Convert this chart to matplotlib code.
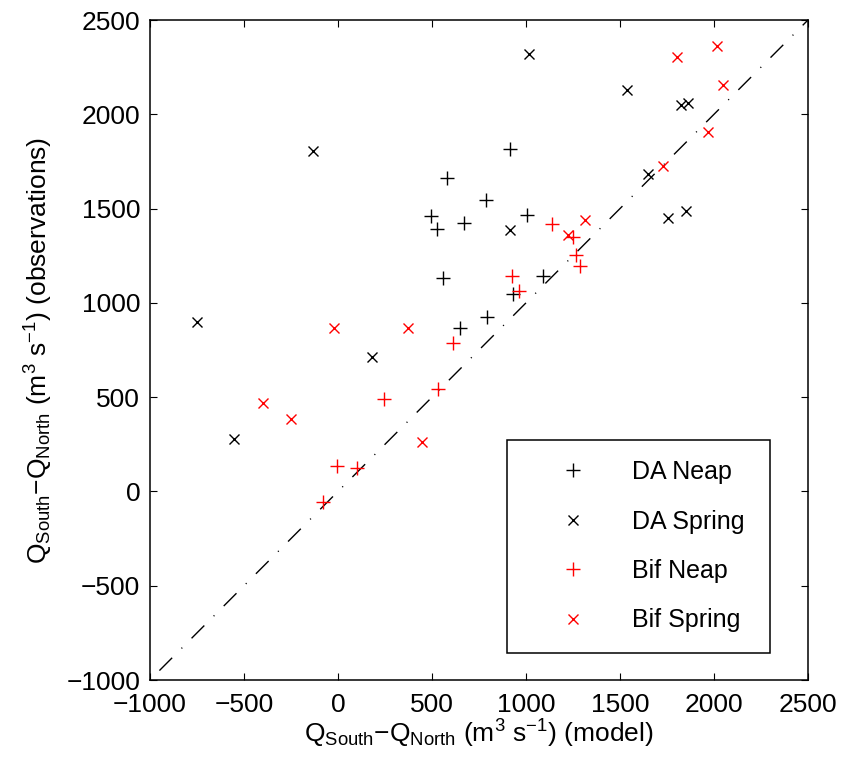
import matplotlib
matplotlib.use('Agg')
import matplotlib.pyplot as plt

# values (m^3 s^-1)
da_neap_x = [580, 495, 527, 670, 559, 649, 915, 787, 1005, 1090, 931, 793]
da_neap_y = [1662, 1461, 1392, 1424, 1132, 867, 1816, 1546, 1466, 1143, 1047, 925]

da_spring_x = [-133, -750, 1016, 1537, 1824, 1862, 1649, 1755, 1851, 915, 181, -553]
da_spring_y = [1805, 899, 2320, 2129, 2049, 2060, 1683, 1450, 1487, 1387, 713, 278]

bif_neap_x = [612, 1138, 1250, 1266, 1287, 926, 963, 245, 532, -5, 101, -80]
bif_neap_y = [787, 1418, 1349, 1254, 1196, 1143, 1063, 490, 543, 135, 125, -56]

bif_spring_x = [-21, 372, 2016, 1803, 2048, 1968, 1729, 1314, 1223, -399, -250, 447]
bif_spring_y = [867, 867, 2362, 2304, 2155, 1906, 1726, 1440, 1360, 469, 384, 262]

one_to_one = [-950, 2500]
ticks = [-1000, -500, 0, 500, 1000, 1500, 2000, 2500]

plt.rcParams['font.family'] = ['Liberation Sans', 'DejaVu Sans']
plt.rcParams['mathtext.fontset'] = 'custom'
plt.rcParams['mathtext.rm'] = 'Liberation Sans'
plt.rcParams['mathtext.it'] = 'Liberation Sans'
plt.rcParams['lines.scale_dashes'] = False

fig = plt.figure(figsize=(8.45, 7.62), dpi=100)
ax = fig.add_axes([150 / 845, 82 / 762, 658 / 845, 660 / 762])

# 1:1 line
ax.plot(one_to_one, one_to_one, color='k', lw=1.0,
        linestyle=(0, (13, 9.5, 0.8, 9.5)))

ax.plot(da_neap_x, da_neap_y, '+', color='k', ms=9.5, mew=1.0,
        linestyle='none', label='DA Neap')
ax.plot(da_spring_x, da_spring_y, 'x', color='k', ms=7, mew=1.0,
        linestyle='none', label='DA Spring')
ax.plot(bif_neap_x, bif_neap_y, '+', color='r', ms=9.5, mew=1.0,
        linestyle='none', label='Bif Neap')
ax.plot(bif_spring_x, bif_spring_y, 'x', color='r', ms=7, mew=1.0,
        linestyle='none', label='Bif Spring')

ax.set_xlim(-1000, 2500)
ax.set_ylim(-1000, 2500)
ax.set_xticks(ticks)
ax.set_yticks(ticks)
ax.tick_params(direction='in', length=5, width=0.8, top=True, right=True,
               labelsize=19)
ax.tick_params(axis='x', pad=9)
ax.tick_params(axis='y', pad=7)
for s in ax.spines.values():
    s.set_linewidth(1.1)

ax.set_xlabel('$\\mathrm{Q_{South}}$\u2212$\\mathrm{Q_{North}}$ (m$^3$ s$^{-1}$) (model)',
              fontsize=19, labelpad=1)
ax.set_ylabel('$\\mathrm{Q_{South}}$\u2212$\\mathrm{Q_{North}}$ (m$^3$ s$^{-1}$) (observations)',
              fontsize=19, labelpad=8)

leg = ax.legend(loc='upper left',
                bbox_to_anchor=(507 / 845, 1 - 440 / 762, 263 / 845, 0),
                bbox_transform=fig.transFigure, mode='expand',
                borderaxespad=0, fontsize=18, numpoints=1,
                handlelength=3.7, handletextpad=0.5, labelspacing=1.02,
                borderpad=0.8, fancybox=False, framealpha=1,
                edgecolor='k')
leg.get_frame().set_linewidth(1.1)

fig.savefig('out.png', dpi=100)
